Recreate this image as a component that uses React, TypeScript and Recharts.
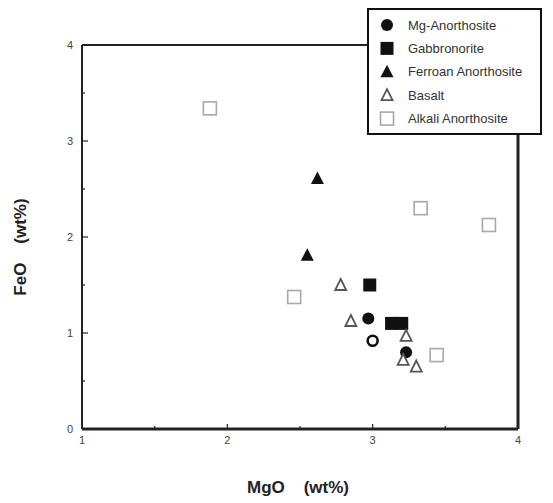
import React from "react";
import { ScatterChart, Scatter, XAxis, YAxis, Legend, ReferenceLine } from "recharts";

const xTicks = [1, 1.5, 2, 2.5, 3, 3.5, 4];
const yTicks = [0, 0.5, 1, 1.5, 2, 2.5, 3, 3.5, 4];

const mgAnorthosite = [
  { x: 2.97, y: 1.15 },
  { x: 3.23, y: 0.8 },
];
const mgAnorthositeOpen = [{ x: 3.0, y: 0.92 }];
const gabbronorite = [
  { x: 2.98, y: 1.5 },
  { x: 3.13, y: 1.1 },
  { x: 3.2, y: 1.1 },
];
const ferroanAnorthosite = [
  { x: 2.62, y: 2.61 },
  { x: 2.55, y: 1.81 },
];
const basalt = [
  { x: 2.78, y: 1.5 },
  { x: 2.85, y: 1.125 },
  { x: 3.23, y: 0.97 },
  { x: 3.21, y: 0.72 },
  { x: 3.3, y: 0.65 },
];
const alkaliAnorthosite = [
  { x: 1.88, y: 3.34 },
  { x: 3.33, y: 2.3 },
  { x: 3.8, y: 2.125 },
  { x: 2.46, y: 1.375 },
  { x: 3.44, y: 0.77 },
];

const FONT = '"Liberation Sans", Arial, Helvetica, sans-serif';
const AXIS = "#222";

type Kind = "circle" | "square" | "triangle" | "openTriangle" | "openSquare" | "openCircle";

const Marker = ({ kind, cx, cy }: { kind: Kind; cx: number; cy: number }) => {
  switch (kind) {
    case "circle":
      return <circle cx={cx} cy={cy} r={6} fill="#111" />;
    case "openCircle":
      return <circle cx={cx} cy={cy} r={5} fill="#fff" stroke="#111" strokeWidth={2.6} />;
    case "square":
      return <rect x={cx - 6.5} y={cy - 6.5} width={13} height={13} fill="#111" />;
    case "triangle":
      return <polygon points={`${cx},${cy - 7} ${cx + 6.5},${cy + 5.5} ${cx - 6.5},${cy + 5.5}`} fill="#111" />;
    case "openTriangle":
      return (
        <polygon
          points={`${cx},${cy - 6} ${cx + 5.5},${cy + 5} ${cx - 5.5},${cy + 5}`}
          fill="#fff"
          stroke="#555"
          strokeWidth={1.8}
          strokeLinejoin="miter"
        />
      );
    case "openSquare":
      return (
        <rect x={cx - 6.5} y={cy - 6.5} width={13} height={13} fill="none" stroke="#a8a8a8" strokeWidth={1.6} />
      );
  }
  return null;
};

const shapeOf = (kind: Kind) => (props: any) => <Marker kind={kind} cx={props.cx} cy={props.cy} />;

const legendItems: { name: string; kind: Kind }[] = [
  { name: "Mg-Anorthosite", kind: "circle" },
  { name: "Gabbronorite", kind: "square" },
  { name: "Ferroan Anorthosite", kind: "triangle" },
  { name: "Basalt", kind: "openTriangle" },
  { name: "Alkali Anorthosite", kind: "openSquare" },
];

const LegendBox = (props: any) => {
  const payload = (props.payload || []) as any[];
  const names = payload.map((p) => p.value);
  const items = legendItems.filter((it) => names.includes(it.name));
  return (
    <div
      style={{
        width: 175,
        height: 127,
        border: "2px solid #111",
        background: "#fff",
        boxSizing: "border-box",
        position: "relative",
      }}
    >
      <svg width={175} height={127} style={{ position: "absolute", left: -2, top: -2 }}>
        {items.map((it, i) => {
          const cy = 17 + i * 23.4;
          return (
            <g key={it.name}>
              <Marker kind={it.kind} cx={20} cy={cy} />
              <text x={41} y={cy + 4.5} fontSize={13} fontFamily={FONT} fill="#333">
                {it.name}
              </text>
            </g>
          );
        })}
      </svg>
    </div>
  );
};

const BottomTick = (props: any) => {
  const { x, y, payload } = props;
  const v = payload.value;
  const major = Number.isInteger(v);
  return (
    <g>
      <line x1={x} y1={y} x2={x} y2={y - (major ? 5 : 3)} stroke={AXIS} strokeWidth={1.2} />
      {major && (
        <text x={x} y={y + 15} textAnchor="middle" fontSize={11} fontFamily={FONT} fill="#444">
          {v}
        </text>
      )}
    </g>
  );
};

const LeftTick = (props: any) => {
  const { x, y, payload } = props;
  const v = payload.value;
  const major = Number.isInteger(v);
  return (
    <g>
      <line x1={x} y1={y} x2={x + (major ? 6 : 3)} y2={y} stroke={AXIS} strokeWidth={1.2} />
      {major && (
        <text x={x - 9} y={y + 4} textAnchor="end" fontSize={11} fontFamily={FONT} fill="#444">
          {v}
        </text>
      )}
    </g>
  );
};

const XLabel = (props: any) => {
  const vb = props.viewBox;
  return (
    <text
      x={vb.x + vb.width / 2 - 2}
      y={vb.y + 64}
      textAnchor="middle"
      fontSize={17}
      fontWeight="bold"
      fontFamily={FONT}
      fill="#222"
    >
      {"MgO\u00a0\u00a0\u00a0\u00a0(wt%)"}
    </text>
  );
};

const YLabel = (props: any) => {
  const vb = props.viewBox;
  const cx = 26;
  const cy = vb.y + vb.height / 2 + 10;
  return (
    <text
      x={cx}
      y={cy}
      transform={`rotate(-90, ${cx}, ${cy})`}
      textAnchor="middle"
      fontSize={17}
      fontWeight="bold"
      fontFamily={FONT}
      fill="#222"
    >
      {"FeO\u00a0\u00a0\u00a0\u00a0(wt%)"}
    </text>
  );
};

const axisStyle = { stroke: AXIS, strokeWidth: 2, strokeOpacity: 1 };
const frameStyle = { stroke: AXIS, strokeWidth: 3, strokeOpacity: 1 };

export default function App() {
  return (
    <div style={{ position: "absolute", left: 0, top: 0, width: 553, height: 503, background: "#fff" }}>
      <ScatterChart width={553} height={503} margin={{ top: 45, right: 35, bottom: 0, left: 0 }}>
        <XAxis
          xAxisId="b"
          type="number"
          dataKey="x"
          domain={[1, 4]}
          ticks={xTicks}
          interval={0}
          height={74}
          tickSize={0}
          tickMargin={0}
          tickLine={false}
          axisLine={axisStyle}
          tick={<BottomTick />}
          label={<XLabel />}
        />
        <YAxis
          yAxisId="l"
          type="number"
          dataKey="y"
          domain={[0, 4]}
          ticks={yTicks}
          interval={0}
          width={82}
          tickSize={0}
          tickMargin={0}
          tickLine={false}
          axisLine={axisStyle}
          tick={<LeftTick />}
          label={<YLabel />}
        />
        <ReferenceLine xAxisId="b" yAxisId="l" y={0} ifOverflow="visible" {...frameStyle} />
        <ReferenceLine xAxisId="b" yAxisId="l" y={4} ifOverflow="visible" {...axisStyle} />
        <ReferenceLine xAxisId="b" yAxisId="l" x={1} ifOverflow="visible" {...axisStyle} />
        <ReferenceLine xAxisId="b" yAxisId="l" x={4} ifOverflow="visible" {...frameStyle} />
        <Legend
          layout="horizontal"
          verticalAlign="middle"
          align="center"
          content={<LegendBox />}
          wrapperStyle={{ position: "absolute", left: 367, top: 8, width: 175, height: 127 }}
        />
        <Scatter
          name="Alkali Anorthosite"
          data={alkaliAnorthosite}
          xAxisId="b"
          yAxisId="l"
          shape={shapeOf("openSquare")}
          isAnimationActive={false}
        />
        <Scatter
          name="Ferroan Anorthosite"
          data={ferroanAnorthosite}
          xAxisId="b"
          yAxisId="l"
          shape={shapeOf("triangle")}
          isAnimationActive={false}
        />
        <Scatter
          name="Gabbronorite"
          data={gabbronorite}
          xAxisId="b"
          yAxisId="l"
          shape={shapeOf("square")}
          isAnimationActive={false}
        />
        <Scatter
          name="Mg-Anorthosite"
          data={mgAnorthosite}
          xAxisId="b"
          yAxisId="l"
          shape={shapeOf("circle")}
          isAnimationActive={false}
        />
        <Scatter
          name="Mg-Anorthosite (open)"
          data={mgAnorthositeOpen}
          xAxisId="b"
          yAxisId="l"
          shape={shapeOf("openCircle")}
          legendType="none"
          isAnimationActive={false}
        />
        <Scatter
          name="Basalt"
          data={basalt}
          xAxisId="b"
          yAxisId="l"
          shape={shapeOf("openTriangle")}
          isAnimationActive={false}
        />
      </ScatterChart>
    </div>
  );
}
